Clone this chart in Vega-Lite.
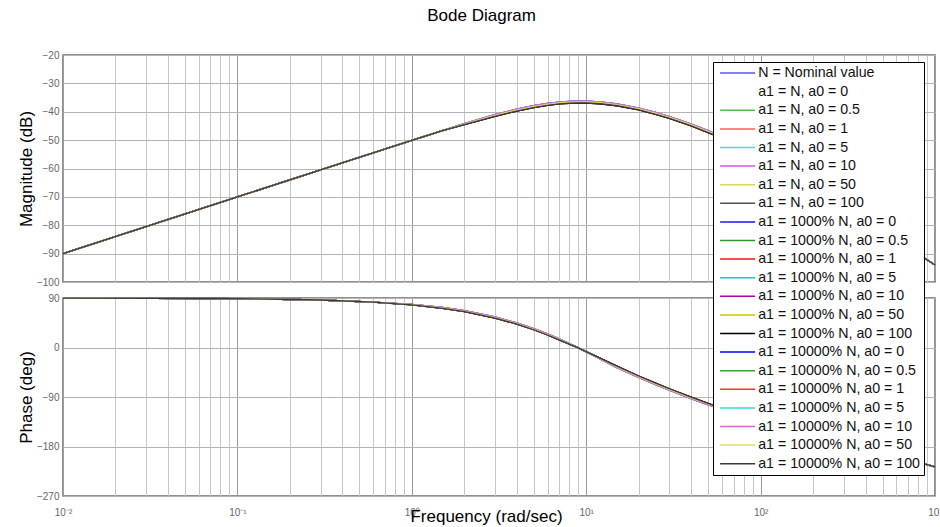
{
  "$schema": "https://vega.github.io/schema/vega-lite/v6.json",
  "background": "white",
  "padding": {"left": 16, "top": 7, "right": 4, "bottom": 2},
  "title": {"text": "Bode Diagram", "font": "Liberation Sans", "fontSize": 17, "fontWeight": "normal", "color": "#000000", "anchor": "middle", "baseline": "alphabetic", "offset": 11, "dx": 2},
  "bounds": "flush",
  "spacing": 16,
  "resolve": {"legend": {"color": "independent"}},
  "datasets": {
    "names": [
      {"s": 1, "name": "N = Nominal value"},
      {"s": 2, "name": "a1 = N, a0 = 0.5"},
      {"s": 3, "name": "a1 = N, a0 = 1"},
      {"s": 4, "name": "a1 = N, a0 = 5"},
      {"s": 5, "name": "a1 = N, a0 = 10"},
      {"s": 6, "name": "a1 = N, a0 = 50"},
      {"s": 7, "name": "a1 = N, a0 = 100"},
      {"s": 8, "name": "a1 = 1000% N, a0 = 0"},
      {"s": 9, "name": "a1 = 1000% N, a0 = 0.5"},
      {"s": 10, "name": "a1 = 1000% N, a0 = 1"},
      {"s": 11, "name": "a1 = 1000% N, a0 = 5"},
      {"s": 12, "name": "a1 = 1000% N, a0 = 10"},
      {"s": 13, "name": "a1 = 1000% N, a0 = 50"},
      {"s": 14, "name": "a1 = 1000% N, a0 = 100"},
      {"s": 15, "name": "a1 = 10000% N, a0 = 0"},
      {"s": 16, "name": "a1 = 10000% N, a0 = 0.5"},
      {"s": 17, "name": "a1 = 10000% N, a0 = 1"},
      {"s": 18, "name": "a1 = 10000% N, a0 = 5"},
      {"s": 19, "name": "a1 = 10000% N, a0 = 10"},
      {"s": 20, "name": "a1 = 10000% N, a0 = 50"},
      {"s": 21, "name": "a1 = 10000% N, a0 = 100"}
    ],
    "curves": [
{"s":1,"w":0.01,"m":-90,"p":89.88},{"s":1,"w":0.1,"m":-70,"p":88.78},{"s":1,"w":0.3,"m":-60.47,"p":86.34},{"s":1,"w":0.6,"m":-54.47,"p":82.68},{"s":1,"w":1,"m":-50.1,"p":77.82},{"s":1,"w":1.5,"m":-46.69,"p":71.8},{"s":1,"w":2,"m":-44.36,"p":65.86},{"s":1,"w":3,"m":-41.29,"p":54.33},{"s":1,"w":4,"m":-39.39,"p":43.36},{"s":1,"w":5,"m":-38.17,"p":33.08},{"s":1,"w":6,"m":-37.39,"p":23.53},{"s":1,"w":7,"m":-36.91,"p":14.72},{"s":1,"w":8,"m":-36.65,"p":6.63},{"s":1,"w":9,"m":-36.55,"p":-0.78},{"s":1,"w":10,"m":-36.57,"p":-7.55},{"s":1,"w":12,"m":-36.83,"p":-20.03},{"s":1,"w":15,"m":-37.54,"p":-35.08},{"s":1,"w":20,"m":-39.02,"p":-52.96},{"s":1,"w":25,"m":-40.54,"p":-66.02},{"s":1,"w":30,"m":-42,"p":-76.17},{"s":1,"w":40,"m":-44.64,"p":-91.41},{"s":1,"w":50,"m":-46.97,"p":-102.73},{"s":1,"w":60,"m":-49.06,"p":-111.11},{"s":1,"w":100,"m":-55.8,"p":-134.2},{"s":1,"w":200,"m":-66.55,"p":-161.03},{"s":1,"w":500,"m":-82.04,"p":-190.02},{"s":1,"w":1000,"m":-94.01,"p":-217.08},
{"s":2,"w":0.01,"m":-90,"p":89.88},{"s":2,"w":0.1,"m":-70,"p":88.78},{"s":2,"w":0.3,"m":-60.47,"p":86.34},{"s":2,"w":0.6,"m":-54.47,"p":82.68},{"s":2,"w":1,"m":-50.1,"p":77.82},{"s":2,"w":1.5,"m":-46.69,"p":71.8},{"s":2,"w":2,"m":-44.36,"p":65.86},{"s":2,"w":3,"m":-41.29,"p":54.33},{"s":2,"w":4,"m":-39.39,"p":43.36},{"s":2,"w":5,"m":-38.17,"p":33.08},{"s":2,"w":6,"m":-37.39,"p":23.53},{"s":2,"w":7,"m":-36.91,"p":14.72},{"s":2,"w":8,"m":-36.65,"p":6.63},{"s":2,"w":9,"m":-36.55,"p":-0.78},{"s":2,"w":10,"m":-36.57,"p":-7.55},{"s":2,"w":12,"m":-36.83,"p":-20.03},{"s":2,"w":15,"m":-37.54,"p":-35.08},{"s":2,"w":20,"m":-39.02,"p":-52.96},{"s":2,"w":25,"m":-40.54,"p":-66.02},{"s":2,"w":30,"m":-42,"p":-76.17},{"s":2,"w":40,"m":-44.64,"p":-91.41},{"s":2,"w":50,"m":-46.97,"p":-102.73},{"s":2,"w":60,"m":-49.06,"p":-111.11},{"s":2,"w":100,"m":-55.8,"p":-134.2},{"s":2,"w":200,"m":-66.55,"p":-161.03},{"s":2,"w":500,"m":-82.04,"p":-190.02},{"s":2,"w":1000,"m":-94.01,"p":-217.08},
{"s":3,"w":0.01,"m":-90,"p":89.88},{"s":3,"w":0.1,"m":-70,"p":88.78},{"s":3,"w":0.3,"m":-60.47,"p":86.34},{"s":3,"w":0.6,"m":-54.47,"p":82.68},{"s":3,"w":1,"m":-50.1,"p":77.82},{"s":3,"w":1.5,"m":-46.69,"p":71.8},{"s":3,"w":2,"m":-44.36,"p":65.86},{"s":3,"w":3,"m":-41.29,"p":54.33},{"s":3,"w":4,"m":-39.39,"p":43.36},{"s":3,"w":5,"m":-38.17,"p":33.08},{"s":3,"w":6,"m":-37.39,"p":23.53},{"s":3,"w":7,"m":-36.91,"p":14.72},{"s":3,"w":8,"m":-36.65,"p":6.63},{"s":3,"w":9,"m":-36.55,"p":-0.78},{"s":3,"w":10,"m":-36.57,"p":-7.55},{"s":3,"w":12,"m":-36.83,"p":-20.03},{"s":3,"w":15,"m":-37.54,"p":-35.08},{"s":3,"w":20,"m":-39.02,"p":-52.96},{"s":3,"w":25,"m":-40.54,"p":-66.02},{"s":3,"w":30,"m":-42,"p":-76.17},{"s":3,"w":40,"m":-44.64,"p":-91.41},{"s":3,"w":50,"m":-46.97,"p":-102.73},{"s":3,"w":60,"m":-49.06,"p":-111.11},{"s":3,"w":100,"m":-55.8,"p":-134.2},{"s":3,"w":200,"m":-66.55,"p":-161.03},{"s":3,"w":500,"m":-82.04,"p":-190.02},{"s":3,"w":1000,"m":-94.01,"p":-217.08},
{"s":4,"w":0.01,"m":-90,"p":89.88},{"s":4,"w":0.1,"m":-70,"p":88.78},{"s":4,"w":0.3,"m":-60.47,"p":86.34},{"s":4,"w":0.6,"m":-54.47,"p":82.68},{"s":4,"w":1,"m":-50.1,"p":78.42},{"s":4,"w":1.5,"m":-46.69,"p":73},{"s":4,"w":2,"m":-44.21,"p":67.06},{"s":4,"w":3,"m":-40.99,"p":55.53},{"s":4,"w":4,"m":-39.09,"p":44.56},{"s":4,"w":5,"m":-37.87,"p":34.28},{"s":4,"w":6,"m":-37.09,"p":24.73},{"s":4,"w":7,"m":-36.61,"p":15.92},{"s":4,"w":8,"m":-36.35,"p":7.23},{"s":4,"w":9,"m":-36.25,"p":-0.78},{"s":4,"w":10,"m":-36.27,"p":-7.55},{"s":4,"w":12,"m":-36.53,"p":-20.83},{"s":4,"w":15,"m":-37.24,"p":-36.48},{"s":4,"w":20,"m":-38.72,"p":-54.36},{"s":4,"w":25,"m":-40.24,"p":-67.42},{"s":4,"w":30,"m":-41.7,"p":-77.57},{"s":4,"w":40,"m":-44.34,"p":-92.81},{"s":4,"w":50,"m":-46.67,"p":-104.13},{"s":4,"w":60,"m":-48.91,"p":-111.91},{"s":4,"w":100,"m":-55.8,"p":-134.2},{"s":4,"w":200,"m":-66.55,"p":-161.03},{"s":4,"w":500,"m":-82.04,"p":-190.02},{"s":4,"w":1000,"m":-94.01,"p":-217.08},
{"s":5,"w":0.01,"m":-90,"p":89.88},{"s":5,"w":0.1,"m":-70,"p":88.78},{"s":5,"w":0.3,"m":-60.47,"p":86.34},{"s":5,"w":0.6,"m":-54.47,"p":82.68},{"s":5,"w":1,"m":-50.1,"p":78.42},{"s":5,"w":1.5,"m":-46.69,"p":73},{"s":5,"w":2,"m":-44.21,"p":67.06},{"s":5,"w":3,"m":-40.99,"p":55.53},{"s":5,"w":4,"m":-39.09,"p":44.56},{"s":5,"w":5,"m":-37.87,"p":34.28},{"s":5,"w":6,"m":-37.09,"p":24.73},{"s":5,"w":7,"m":-36.61,"p":15.92},{"s":5,"w":8,"m":-36.35,"p":7.23},{"s":5,"w":9,"m":-36.25,"p":-0.78},{"s":5,"w":10,"m":-36.27,"p":-7.55},{"s":5,"w":12,"m":-36.53,"p":-20.83},{"s":5,"w":15,"m":-37.24,"p":-36.48},{"s":5,"w":20,"m":-38.72,"p":-54.36},{"s":5,"w":25,"m":-40.24,"p":-67.42},{"s":5,"w":30,"m":-41.7,"p":-77.57},{"s":5,"w":40,"m":-44.34,"p":-92.81},{"s":5,"w":50,"m":-46.67,"p":-104.13},{"s":5,"w":60,"m":-48.91,"p":-111.91},{"s":5,"w":100,"m":-55.8,"p":-134.2},{"s":5,"w":200,"m":-66.55,"p":-161.03},{"s":5,"w":500,"m":-82.04,"p":-190.02},{"s":5,"w":1000,"m":-94.01,"p":-217.08},
{"s":6,"w":0.01,"m":-90,"p":89.88},{"s":6,"w":0.1,"m":-70,"p":88.78},{"s":6,"w":0.3,"m":-60.47,"p":86.34},{"s":6,"w":0.6,"m":-54.47,"p":82.68},{"s":6,"w":1,"m":-50.1,"p":77.82},{"s":6,"w":1.5,"m":-46.69,"p":71.8},{"s":6,"w":2,"m":-44.36,"p":65.86},{"s":6,"w":3,"m":-41.29,"p":54.33},{"s":6,"w":4,"m":-39.39,"p":43.36},{"s":6,"w":5,"m":-38.17,"p":33.08},{"s":6,"w":6,"m":-37.39,"p":23.53},{"s":6,"w":7,"m":-36.91,"p":14.72},{"s":6,"w":8,"m":-36.65,"p":6.63},{"s":6,"w":9,"m":-36.55,"p":-0.78},{"s":6,"w":10,"m":-36.57,"p":-7.55},{"s":6,"w":12,"m":-36.83,"p":-20.03},{"s":6,"w":15,"m":-37.54,"p":-35.08},{"s":6,"w":20,"m":-39.02,"p":-52.96},{"s":6,"w":25,"m":-40.54,"p":-66.02},{"s":6,"w":30,"m":-42,"p":-76.17},{"s":6,"w":40,"m":-44.64,"p":-91.41},{"s":6,"w":50,"m":-46.97,"p":-102.73},{"s":6,"w":60,"m":-49.06,"p":-111.11},{"s":6,"w":100,"m":-55.8,"p":-134.2},{"s":6,"w":200,"m":-66.55,"p":-161.03},{"s":6,"w":500,"m":-82.04,"p":-190.02},{"s":6,"w":1000,"m":-94.01,"p":-217.08},
{"s":7,"w":0.01,"m":-90,"p":89.88},{"s":7,"w":0.1,"m":-70,"p":88.78},{"s":7,"w":0.3,"m":-60.47,"p":86.34},{"s":7,"w":0.6,"m":-54.47,"p":82.68},{"s":7,"w":1,"m":-50.1,"p":77.42},{"s":7,"w":1.5,"m":-46.69,"p":71},{"s":7,"w":2,"m":-44.56,"p":65.06},{"s":7,"w":3,"m":-41.64,"p":53.53},{"s":7,"w":4,"m":-39.74,"p":42.56},{"s":7,"w":5,"m":-38.52,"p":32.28},{"s":7,"w":6,"m":-37.74,"p":22.73},{"s":7,"w":7,"m":-37.26,"p":13.92},{"s":7,"w":8,"m":-37,"p":6.23},{"s":7,"w":9,"m":-36.9,"p":-0.78},{"s":7,"w":10,"m":-36.92,"p":-7.55},{"s":7,"w":12,"m":-37.18,"p":-19.43},{"s":7,"w":15,"m":-37.89,"p":-33.88},{"s":7,"w":20,"m":-39.37,"p":-51.76},{"s":7,"w":25,"m":-40.89,"p":-64.82},{"s":7,"w":30,"m":-42.35,"p":-74.97},{"s":7,"w":40,"m":-44.99,"p":-90.21},{"s":7,"w":50,"m":-47.32,"p":-101.53},{"s":7,"w":60,"m":-49.26,"p":-110.51},{"s":7,"w":100,"m":-55.8,"p":-134.2},{"s":7,"w":200,"m":-66.55,"p":-161.03},{"s":7,"w":500,"m":-82.04,"p":-190.02},{"s":7,"w":1000,"m":-94.01,"p":-217.08},
{"s":8,"w":0.01,"m":-90,"p":89.88},{"s":8,"w":0.1,"m":-70,"p":88.78},{"s":8,"w":0.3,"m":-60.47,"p":86.34},{"s":8,"w":0.6,"m":-54.47,"p":82.68},{"s":8,"w":1,"m":-50.1,"p":77.82},{"s":8,"w":1.5,"m":-46.69,"p":71.8},{"s":8,"w":2,"m":-44.36,"p":65.86},{"s":8,"w":3,"m":-41.29,"p":54.33},{"s":8,"w":4,"m":-39.39,"p":43.36},{"s":8,"w":5,"m":-38.17,"p":33.08},{"s":8,"w":6,"m":-37.39,"p":23.53},{"s":8,"w":7,"m":-36.91,"p":14.72},{"s":8,"w":8,"m":-36.65,"p":6.63},{"s":8,"w":9,"m":-36.55,"p":-0.78},{"s":8,"w":10,"m":-36.57,"p":-7.55},{"s":8,"w":12,"m":-36.83,"p":-20.03},{"s":8,"w":15,"m":-37.54,"p":-35.08},{"s":8,"w":20,"m":-39.02,"p":-52.96},{"s":8,"w":25,"m":-40.54,"p":-66.02},{"s":8,"w":30,"m":-42,"p":-76.17},{"s":8,"w":40,"m":-44.64,"p":-91.41},{"s":8,"w":50,"m":-46.97,"p":-102.73},{"s":8,"w":60,"m":-49.06,"p":-111.11},{"s":8,"w":100,"m":-55.8,"p":-134.2},{"s":8,"w":200,"m":-66.55,"p":-161.03},{"s":8,"w":500,"m":-82.04,"p":-190.02},{"s":8,"w":1000,"m":-94.01,"p":-217.08},
{"s":9,"w":0.01,"m":-90,"p":89.88},{"s":9,"w":0.1,"m":-70,"p":88.78},{"s":9,"w":0.3,"m":-60.47,"p":86.34},{"s":9,"w":0.6,"m":-54.47,"p":82.68},{"s":9,"w":1,"m":-50.1,"p":77.82},{"s":9,"w":1.5,"m":-46.69,"p":71.8},{"s":9,"w":2,"m":-44.36,"p":65.86},{"s":9,"w":3,"m":-41.29,"p":54.33},{"s":9,"w":4,"m":-39.39,"p":43.36},{"s":9,"w":5,"m":-38.17,"p":33.08},{"s":9,"w":6,"m":-37.39,"p":23.53},{"s":9,"w":7,"m":-36.91,"p":14.72},{"s":9,"w":8,"m":-36.65,"p":6.63},{"s":9,"w":9,"m":-36.55,"p":-0.78},{"s":9,"w":10,"m":-36.57,"p":-7.55},{"s":9,"w":12,"m":-36.83,"p":-20.03},{"s":9,"w":15,"m":-37.54,"p":-35.08},{"s":9,"w":20,"m":-39.02,"p":-52.96},{"s":9,"w":25,"m":-40.54,"p":-66.02},{"s":9,"w":30,"m":-42,"p":-76.17},{"s":9,"w":40,"m":-44.64,"p":-91.41},{"s":9,"w":50,"m":-46.97,"p":-102.73},{"s":9,"w":60,"m":-49.06,"p":-111.11},{"s":9,"w":100,"m":-55.8,"p":-134.2},{"s":9,"w":200,"m":-66.55,"p":-161.03},{"s":9,"w":500,"m":-82.04,"p":-190.02},{"s":9,"w":1000,"m":-94.01,"p":-217.08},
{"s":10,"w":0.01,"m":-90,"p":89.88},{"s":10,"w":0.1,"m":-70,"p":88.78},{"s":10,"w":0.3,"m":-60.47,"p":86.34},{"s":10,"w":0.6,"m":-54.47,"p":82.68},{"s":10,"w":1,"m":-50.1,"p":77.82},{"s":10,"w":1.5,"m":-46.69,"p":71.8},{"s":10,"w":2,"m":-44.36,"p":65.86},{"s":10,"w":3,"m":-41.29,"p":54.33},{"s":10,"w":4,"m":-39.39,"p":43.36},{"s":10,"w":5,"m":-38.17,"p":33.08},{"s":10,"w":6,"m":-37.39,"p":23.53},{"s":10,"w":7,"m":-36.91,"p":14.72},{"s":10,"w":8,"m":-36.65,"p":6.63},{"s":10,"w":9,"m":-36.55,"p":-0.78},{"s":10,"w":10,"m":-36.57,"p":-7.55},{"s":10,"w":12,"m":-36.83,"p":-20.03},{"s":10,"w":15,"m":-37.54,"p":-35.08},{"s":10,"w":20,"m":-39.02,"p":-52.96},{"s":10,"w":25,"m":-40.54,"p":-66.02},{"s":10,"w":30,"m":-42,"p":-76.17},{"s":10,"w":40,"m":-44.64,"p":-91.41},{"s":10,"w":50,"m":-46.97,"p":-102.73},{"s":10,"w":60,"m":-49.06,"p":-111.11},{"s":10,"w":100,"m":-55.8,"p":-134.2},{"s":10,"w":200,"m":-66.55,"p":-161.03},{"s":10,"w":500,"m":-82.04,"p":-190.02},{"s":10,"w":1000,"m":-94.01,"p":-217.08},
{"s":11,"w":0.01,"m":-90,"p":89.88},{"s":11,"w":0.1,"m":-70,"p":88.78},{"s":11,"w":0.3,"m":-60.47,"p":86.34},{"s":11,"w":0.6,"m":-54.47,"p":82.68},{"s":11,"w":1,"m":-50.1,"p":78.42},{"s":11,"w":1.5,"m":-46.69,"p":73},{"s":11,"w":2,"m":-44.21,"p":67.06},{"s":11,"w":3,"m":-40.99,"p":55.53},{"s":11,"w":4,"m":-39.09,"p":44.56},{"s":11,"w":5,"m":-37.87,"p":34.28},{"s":11,"w":6,"m":-37.09,"p":24.73},{"s":11,"w":7,"m":-36.61,"p":15.92},{"s":11,"w":8,"m":-36.35,"p":7.23},{"s":11,"w":9,"m":-36.25,"p":-0.78},{"s":11,"w":10,"m":-36.27,"p":-7.55},{"s":11,"w":12,"m":-36.53,"p":-20.83},{"s":11,"w":15,"m":-37.24,"p":-36.48},{"s":11,"w":20,"m":-38.72,"p":-54.36},{"s":11,"w":25,"m":-40.24,"p":-67.42},{"s":11,"w":30,"m":-41.7,"p":-77.57},{"s":11,"w":40,"m":-44.34,"p":-92.81},{"s":11,"w":50,"m":-46.67,"p":-104.13},{"s":11,"w":60,"m":-48.91,"p":-111.91},{"s":11,"w":100,"m":-55.8,"p":-134.2},{"s":11,"w":200,"m":-66.55,"p":-161.03},{"s":11,"w":500,"m":-82.04,"p":-190.02},{"s":11,"w":1000,"m":-94.01,"p":-217.08},
{"s":12,"w":0.01,"m":-90,"p":89.88},{"s":12,"w":0.1,"m":-70,"p":88.78},{"s":12,"w":0.3,"m":-60.47,"p":86.34},{"s":12,"w":0.6,"m":-54.47,"p":82.68},{"s":12,"w":1,"m":-50.1,"p":78.42},{"s":12,"w":1.5,"m":-46.69,"p":73},{"s":12,"w":2,"m":-44.21,"p":67.06},{"s":12,"w":3,"m":-40.99,"p":55.53},{"s":12,"w":4,"m":-39.09,"p":44.56},{"s":12,"w":5,"m":-37.87,"p":34.28},{"s":12,"w":6,"m":-37.09,"p":24.73},{"s":12,"w":7,"m":-36.61,"p":15.92},{"s":12,"w":8,"m":-36.35,"p":7.23},{"s":12,"w":9,"m":-36.25,"p":-0.78},{"s":12,"w":10,"m":-36.27,"p":-7.55},{"s":12,"w":12,"m":-36.53,"p":-20.83},{"s":12,"w":15,"m":-37.24,"p":-36.48},{"s":12,"w":20,"m":-38.72,"p":-54.36},{"s":12,"w":25,"m":-40.24,"p":-67.42},{"s":12,"w":30,"m":-41.7,"p":-77.57},{"s":12,"w":40,"m":-44.34,"p":-92.81},{"s":12,"w":50,"m":-46.67,"p":-104.13},{"s":12,"w":60,"m":-48.91,"p":-111.91},{"s":12,"w":100,"m":-55.8,"p":-134.2},{"s":12,"w":200,"m":-66.55,"p":-161.03},{"s":12,"w":500,"m":-82.04,"p":-190.02},{"s":12,"w":1000,"m":-94.01,"p":-217.08},
{"s":13,"w":0.01,"m":-90,"p":89.88},{"s":13,"w":0.1,"m":-70,"p":88.78},{"s":13,"w":0.3,"m":-60.47,"p":86.34},{"s":13,"w":0.6,"m":-54.47,"p":82.68},{"s":13,"w":1,"m":-50.1,"p":77.82},{"s":13,"w":1.5,"m":-46.69,"p":71.8},{"s":13,"w":2,"m":-44.36,"p":65.86},{"s":13,"w":3,"m":-41.29,"p":54.33},{"s":13,"w":4,"m":-39.39,"p":43.36},{"s":13,"w":5,"m":-38.17,"p":33.08},{"s":13,"w":6,"m":-37.39,"p":23.53},{"s":13,"w":7,"m":-36.91,"p":14.72},{"s":13,"w":8,"m":-36.65,"p":6.63},{"s":13,"w":9,"m":-36.55,"p":-0.78},{"s":13,"w":10,"m":-36.57,"p":-7.55},{"s":13,"w":12,"m":-36.83,"p":-20.03},{"s":13,"w":15,"m":-37.54,"p":-35.08},{"s":13,"w":20,"m":-39.02,"p":-52.96},{"s":13,"w":25,"m":-40.54,"p":-66.02},{"s":13,"w":30,"m":-42,"p":-76.17},{"s":13,"w":40,"m":-44.64,"p":-91.41},{"s":13,"w":50,"m":-46.97,"p":-102.73},{"s":13,"w":60,"m":-49.06,"p":-111.11},{"s":13,"w":100,"m":-55.8,"p":-134.2},{"s":13,"w":200,"m":-66.55,"p":-161.03},{"s":13,"w":500,"m":-82.04,"p":-190.02},{"s":13,"w":1000,"m":-94.01,"p":-217.08},
{"s":14,"w":0.01,"m":-90,"p":89.88},{"s":14,"w":0.1,"m":-70,"p":88.78},{"s":14,"w":0.3,"m":-60.47,"p":86.34},{"s":14,"w":0.6,"m":-54.47,"p":82.68},{"s":14,"w":1,"m":-50.1,"p":77.42},{"s":14,"w":1.5,"m":-46.69,"p":71},{"s":14,"w":2,"m":-44.56,"p":65.06},{"s":14,"w":3,"m":-41.64,"p":53.53},{"s":14,"w":4,"m":-39.74,"p":42.56},{"s":14,"w":5,"m":-38.52,"p":32.28},{"s":14,"w":6,"m":-37.74,"p":22.73},{"s":14,"w":7,"m":-37.26,"p":13.92},{"s":14,"w":8,"m":-37,"p":6.23},{"s":14,"w":9,"m":-36.9,"p":-0.78},{"s":14,"w":10,"m":-36.92,"p":-7.55},{"s":14,"w":12,"m":-37.18,"p":-19.43},{"s":14,"w":15,"m":-37.89,"p":-33.88},{"s":14,"w":20,"m":-39.37,"p":-51.76},{"s":14,"w":25,"m":-40.89,"p":-64.82},{"s":14,"w":30,"m":-42.35,"p":-74.97},{"s":14,"w":40,"m":-44.99,"p":-90.21},{"s":14,"w":50,"m":-47.32,"p":-101.53},{"s":14,"w":60,"m":-49.26,"p":-110.51},{"s":14,"w":100,"m":-55.8,"p":-134.2},{"s":14,"w":200,"m":-66.55,"p":-161.03},{"s":14,"w":500,"m":-82.04,"p":-190.02},{"s":14,"w":1000,"m":-94.01,"p":-217.08},
{"s":15,"w":0.01,"m":-90,"p":89.88},{"s":15,"w":0.1,"m":-70,"p":88.78},{"s":15,"w":0.3,"m":-60.47,"p":86.34},{"s":15,"w":0.6,"m":-54.47,"p":82.68},{"s":15,"w":1,"m":-50.1,"p":77.82},{"s":15,"w":1.5,"m":-46.69,"p":71.8},{"s":15,"w":2,"m":-44.36,"p":65.86},{"s":15,"w":3,"m":-41.29,"p":54.33},{"s":15,"w":4,"m":-39.39,"p":43.36},{"s":15,"w":5,"m":-38.17,"p":33.08},{"s":15,"w":6,"m":-37.39,"p":23.53},{"s":15,"w":7,"m":-36.91,"p":14.72},{"s":15,"w":8,"m":-36.65,"p":6.63},{"s":15,"w":9,"m":-36.55,"p":-0.78},{"s":15,"w":10,"m":-36.57,"p":-7.55},{"s":15,"w":12,"m":-36.83,"p":-20.03},{"s":15,"w":15,"m":-37.54,"p":-35.08},{"s":15,"w":20,"m":-39.02,"p":-52.96},{"s":15,"w":25,"m":-40.54,"p":-66.02},{"s":15,"w":30,"m":-42,"p":-76.17},{"s":15,"w":40,"m":-44.64,"p":-91.41},{"s":15,"w":50,"m":-46.97,"p":-102.73},{"s":15,"w":60,"m":-49.06,"p":-111.11},{"s":15,"w":100,"m":-55.8,"p":-134.2},{"s":15,"w":200,"m":-66.55,"p":-161.03},{"s":15,"w":500,"m":-82.04,"p":-190.02},{"s":15,"w":1000,"m":-94.01,"p":-217.08},
{"s":16,"w":0.01,"m":-90,"p":89.88},{"s":16,"w":0.1,"m":-70,"p":88.78},{"s":16,"w":0.3,"m":-60.47,"p":86.34},{"s":16,"w":0.6,"m":-54.47,"p":82.68},{"s":16,"w":1,"m":-50.1,"p":77.82},{"s":16,"w":1.5,"m":-46.69,"p":71.8},{"s":16,"w":2,"m":-44.36,"p":65.86},{"s":16,"w":3,"m":-41.29,"p":54.33},{"s":16,"w":4,"m":-39.39,"p":43.36},{"s":16,"w":5,"m":-38.17,"p":33.08},{"s":16,"w":6,"m":-37.39,"p":23.53},{"s":16,"w":7,"m":-36.91,"p":14.72},{"s":16,"w":8,"m":-36.65,"p":6.63},{"s":16,"w":9,"m":-36.55,"p":-0.78},{"s":16,"w":10,"m":-36.57,"p":-7.55},{"s":16,"w":12,"m":-36.83,"p":-20.03},{"s":16,"w":15,"m":-37.54,"p":-35.08},{"s":16,"w":20,"m":-39.02,"p":-52.96},{"s":16,"w":25,"m":-40.54,"p":-66.02},{"s":16,"w":30,"m":-42,"p":-76.17},{"s":16,"w":40,"m":-44.64,"p":-91.41},{"s":16,"w":50,"m":-46.97,"p":-102.73},{"s":16,"w":60,"m":-49.06,"p":-111.11},{"s":16,"w":100,"m":-55.8,"p":-134.2},{"s":16,"w":200,"m":-66.55,"p":-161.03},{"s":16,"w":500,"m":-82.04,"p":-190.02},{"s":16,"w":1000,"m":-94.01,"p":-217.08},
{"s":17,"w":0.01,"m":-90,"p":89.88},{"s":17,"w":0.1,"m":-70,"p":88.78},{"s":17,"w":0.3,"m":-60.47,"p":86.34},{"s":17,"w":0.6,"m":-54.47,"p":82.68},{"s":17,"w":1,"m":-50.1,"p":77.82},{"s":17,"w":1.5,"m":-46.69,"p":71.8},{"s":17,"w":2,"m":-44.36,"p":65.86},{"s":17,"w":3,"m":-41.29,"p":54.33},{"s":17,"w":4,"m":-39.39,"p":43.36},{"s":17,"w":5,"m":-38.17,"p":33.08},{"s":17,"w":6,"m":-37.39,"p":23.53},{"s":17,"w":7,"m":-36.91,"p":14.72},{"s":17,"w":8,"m":-36.65,"p":6.63},{"s":17,"w":9,"m":-36.55,"p":-0.78},{"s":17,"w":10,"m":-36.57,"p":-7.55},{"s":17,"w":12,"m":-36.83,"p":-20.03},{"s":17,"w":15,"m":-37.54,"p":-35.08},{"s":17,"w":20,"m":-39.02,"p":-52.96},{"s":17,"w":25,"m":-40.54,"p":-66.02},{"s":17,"w":30,"m":-42,"p":-76.17},{"s":17,"w":40,"m":-44.64,"p":-91.41},{"s":17,"w":50,"m":-46.97,"p":-102.73},{"s":17,"w":60,"m":-49.06,"p":-111.11},{"s":17,"w":100,"m":-55.8,"p":-134.2},{"s":17,"w":200,"m":-66.55,"p":-161.03},{"s":17,"w":500,"m":-82.04,"p":-190.02},{"s":17,"w":1000,"m":-94.01,"p":-217.08},
{"s":18,"w":0.01,"m":-90,"p":89.88},{"s":18,"w":0.1,"m":-70,"p":88.78},{"s":18,"w":0.3,"m":-60.47,"p":86.34},{"s":18,"w":0.6,"m":-54.47,"p":82.68},{"s":18,"w":1,"m":-50.1,"p":78.42},{"s":18,"w":1.5,"m":-46.69,"p":73},{"s":18,"w":2,"m":-44.21,"p":67.06},{"s":18,"w":3,"m":-40.99,"p":55.53},{"s":18,"w":4,"m":-39.09,"p":44.56},{"s":18,"w":5,"m":-37.87,"p":34.28},{"s":18,"w":6,"m":-37.09,"p":24.73},{"s":18,"w":7,"m":-36.61,"p":15.92},{"s":18,"w":8,"m":-36.35,"p":7.23},{"s":18,"w":9,"m":-36.25,"p":-0.78},{"s":18,"w":10,"m":-36.27,"p":-7.55},{"s":18,"w":12,"m":-36.53,"p":-20.83},{"s":18,"w":15,"m":-37.24,"p":-36.48},{"s":18,"w":20,"m":-38.72,"p":-54.36},{"s":18,"w":25,"m":-40.24,"p":-67.42},{"s":18,"w":30,"m":-41.7,"p":-77.57},{"s":18,"w":40,"m":-44.34,"p":-92.81},{"s":18,"w":50,"m":-46.67,"p":-104.13},{"s":18,"w":60,"m":-48.91,"p":-111.91},{"s":18,"w":100,"m":-55.8,"p":-134.2},{"s":18,"w":200,"m":-66.55,"p":-161.03},{"s":18,"w":500,"m":-82.04,"p":-190.02},{"s":18,"w":1000,"m":-94.01,"p":-217.08},
{"s":19,"w":0.01,"m":-90,"p":89.88},{"s":19,"w":0.1,"m":-70,"p":88.78},{"s":19,"w":0.3,"m":-60.47,"p":86.34},{"s":19,"w":0.6,"m":-54.47,"p":82.68},{"s":19,"w":1,"m":-50.1,"p":78.42},{"s":19,"w":1.5,"m":-46.69,"p":73},{"s":19,"w":2,"m":-44.21,"p":67.06},{"s":19,"w":3,"m":-40.99,"p":55.53},{"s":19,"w":4,"m":-39.09,"p":44.56},{"s":19,"w":5,"m":-37.87,"p":34.28},{"s":19,"w":6,"m":-37.09,"p":24.73},{"s":19,"w":7,"m":-36.61,"p":15.92},{"s":19,"w":8,"m":-36.35,"p":7.23},{"s":19,"w":9,"m":-36.25,"p":-0.78},{"s":19,"w":10,"m":-36.27,"p":-7.55},{"s":19,"w":12,"m":-36.53,"p":-20.83},{"s":19,"w":15,"m":-37.24,"p":-36.48},{"s":19,"w":20,"m":-38.72,"p":-54.36},{"s":19,"w":25,"m":-40.24,"p":-67.42},{"s":19,"w":30,"m":-41.7,"p":-77.57},{"s":19,"w":40,"m":-44.34,"p":-92.81},{"s":19,"w":50,"m":-46.67,"p":-104.13},{"s":19,"w":60,"m":-48.91,"p":-111.91},{"s":19,"w":100,"m":-55.8,"p":-134.2},{"s":19,"w":200,"m":-66.55,"p":-161.03},{"s":19,"w":500,"m":-82.04,"p":-190.02},{"s":19,"w":1000,"m":-94.01,"p":-217.08},
{"s":20,"w":0.01,"m":-90,"p":89.88},{"s":20,"w":0.1,"m":-70,"p":88.78},{"s":20,"w":0.3,"m":-60.47,"p":86.34},{"s":20,"w":0.6,"m":-54.47,"p":82.68},{"s":20,"w":1,"m":-50.1,"p":77.82},{"s":20,"w":1.5,"m":-46.69,"p":71.8},{"s":20,"w":2,"m":-44.36,"p":65.86},{"s":20,"w":3,"m":-41.29,"p":54.33},{"s":20,"w":4,"m":-39.39,"p":43.36},{"s":20,"w":5,"m":-38.17,"p":33.08},{"s":20,"w":6,"m":-37.39,"p":23.53},{"s":20,"w":7,"m":-36.91,"p":14.72},{"s":20,"w":8,"m":-36.65,"p":6.63},{"s":20,"w":9,"m":-36.55,"p":-0.78},{"s":20,"w":10,"m":-36.57,"p":-7.55},{"s":20,"w":12,"m":-36.83,"p":-20.03},{"s":20,"w":15,"m":-37.54,"p":-35.08},{"s":20,"w":20,"m":-39.02,"p":-52.96},{"s":20,"w":25,"m":-40.54,"p":-66.02},{"s":20,"w":30,"m":-42,"p":-76.17},{"s":20,"w":40,"m":-44.64,"p":-91.41},{"s":20,"w":50,"m":-46.97,"p":-102.73},{"s":20,"w":60,"m":-49.06,"p":-111.11},{"s":20,"w":100,"m":-55.8,"p":-134.2},{"s":20,"w":200,"m":-66.55,"p":-161.03},{"s":20,"w":500,"m":-82.04,"p":-190.02},{"s":20,"w":1000,"m":-94.01,"p":-217.08},
{"s":21,"w":0.01,"m":-90,"p":89.88},{"s":21,"w":0.1,"m":-70,"p":88.78},{"s":21,"w":0.3,"m":-60.47,"p":86.34},{"s":21,"w":0.6,"m":-54.47,"p":82.68},{"s":21,"w":1,"m":-50.1,"p":77.42},{"s":21,"w":1.5,"m":-46.69,"p":71},{"s":21,"w":2,"m":-44.56,"p":65.06},{"s":21,"w":3,"m":-41.64,"p":53.53},{"s":21,"w":4,"m":-39.74,"p":42.56},{"s":21,"w":5,"m":-38.52,"p":32.28},{"s":21,"w":6,"m":-37.74,"p":22.73},{"s":21,"w":7,"m":-37.26,"p":13.92},{"s":21,"w":8,"m":-37,"p":6.23},{"s":21,"w":9,"m":-36.9,"p":-0.78},{"s":21,"w":10,"m":-36.92,"p":-7.55},{"s":21,"w":12,"m":-37.18,"p":-19.43},{"s":21,"w":15,"m":-37.89,"p":-33.88},{"s":21,"w":20,"m":-39.37,"p":-51.76},{"s":21,"w":25,"m":-40.89,"p":-64.82},{"s":21,"w":30,"m":-42.35,"p":-74.97},{"s":21,"w":40,"m":-44.99,"p":-90.21},{"s":21,"w":50,"m":-47.32,"p":-101.53},{"s":21,"w":60,"m":-49.26,"p":-110.51},{"s":21,"w":100,"m":-55.8,"p":-134.2},{"s":21,"w":200,"m":-66.55,"p":-161.03},{"s":21,"w":500,"m":-82.04,"p":-190.02},{"s":21,"w":1000,"m":-94.01,"p":-217.08}
    ]
  },
  "vconcat": [
    {
      "width": 872,
      "height": 227,
      "data": {"name": "curves"},
      "transform": [{"lookup": "s", "from": {"data": {"name": "names"}, "key": "s", "fields": ["name"]}}],
      "mark": {"type": "line", "strokeWidth": 1.3},
      "encoding": {
        "x": {
          "field": "w", "type": "quantitative",
          "scale": {"type": "log", "domain": [0.01, 1000], "nice": false},
          "axis": {
            "values": [0.01,0.02,0.03,0.04,0.05,0.06,0.07,0.08,0.09,0.1,0.2,0.3,0.4,0.5,0.6,0.7,0.8,0.9,1,2,3,4,5,6,7,8,9,10,20,30,40,50,60,70,80,90,100,200,300,400,500,600,700,800,900,1000],
            "labels": false, "ticks": false, "domain": false, "title": null, "grid": true,
            "gridColor": {"condition": {"test": "datum.value == 0.01 || datum.value == 0.1 || datum.value == 1 || datum.value == 10 || datum.value == 100 || datum.value == 1000", "value": "#9c9c9c"}, "value": "#c6c6c6"}
          }
        },
        "y": {
          "field": "m", "type": "quantitative",
          "scale": {"domain": [-100, -20], "nice": false, "zero": false},
          "axis": {
            "values": [-100,-90,-80,-70,-60,-50,-40,-30,-20],
            "grid": true, "gridColor": "#b4b4b4", "ticks": false, "tickSize": 0, "domain": false,
            "labelFont": "Liberation Sans", "labelFontSize": 10, "labelColor": "#666666", "labelPadding": 4,
            "labelOverlap": false, "labelFlush": false,
            "title": "Magnitude (dB)", "titleFont": "Liberation Sans", "titleFontSize": 17, "titleFontWeight": "normal", "titleColor": "#000000",
            "titleAngle": 270, "titleX": -32, "titleY": 113.5, "titleAlign": "center", "titleBaseline": "alphabetic"
          }
        },
        "color": {
          "field": "name", "type": "nominal",
          "scale": {
            "domain": ["N = Nominal value","a1 = N, a0 = 0","a1 = N, a0 = 0.5","a1 = N, a0 = 1","a1 = N, a0 = 5","a1 = N, a0 = 10","a1 = N, a0 = 50","a1 = N, a0 = 100","a1 = 1000% N, a0 = 0","a1 = 1000% N, a0 = 0.5","a1 = 1000% N, a0 = 1","a1 = 1000% N, a0 = 5","a1 = 1000% N, a0 = 10","a1 = 1000% N, a0 = 50","a1 = 1000% N, a0 = 100","a1 = 10000% N, a0 = 0","a1 = 10000% N, a0 = 0.5","a1 = 10000% N, a0 = 1","a1 = 10000% N, a0 = 5","a1 = 10000% N, a0 = 10","a1 = 10000% N, a0 = 50","a1 = 10000% N, a0 = 100"],
            "range": ["#5555ff","transparent","#4cc04c","#ff5a5a","#55d5d5","#d855d8","#dada55","#505050","#1a1aee","#2a9a2a","#ff1010","#10c8c8","#b000b0","#c8c800","#000000","#0000ff","#30a830","#ff3030","#30d8d8","#e060e0","#e0e060","#3a3a3a"]
          },
          "legend": null
        }
      }
    },
    {
      "width": 872,
      "height": 198,
      "data": {"name": "curves"},
      "transform": [{"lookup": "s", "from": {"data": {"name": "names"}, "key": "s", "fields": ["name"]}}],
      "mark": {"type": "line", "strokeWidth": 1.3},
      "encoding": {
        "x": {
          "field": "w", "type": "quantitative",
          "scale": {"type": "log", "domain": [0.01, 1000], "nice": false},
          "axis": {
            "values": [0.01,0.02,0.03,0.04,0.05,0.06,0.07,0.08,0.09,0.1,0.2,0.3,0.4,0.5,0.6,0.7,0.8,0.9,1,2,3,4,5,6,7,8,9,10,20,30,40,50,60,70,80,90,100,200,300,400,500,600,700,800,900,1000],
            "labelExpr": "datum.value == 0.01 ? '10⁻²' : datum.value == 0.1 ? '10⁻¹' : datum.value == 1 ? '10⁰' : datum.value == 10 ? '10¹' : datum.value == 100 ? '10²' : datum.value == 1000 ? '10³' : ''",
            "ticks": false, "tickSize": 0, "domain": false, "grid": true,
            "gridColor": {"condition": {"test": "datum.value == 0.01 || datum.value == 0.1 || datum.value == 1 || datum.value == 10 || datum.value == 100 || datum.value == 1000", "value": "#9c9c9c"}, "value": "#c6c6c6"},
            "labelFont": "Liberation Sans", "labelFontSize": 10, "labelColor": "#666666", "labelPadding": 11,
            "labelOverlap": false, "labelFlush": false, "labelBound": false,
            "title": "Frequency  (rad/sec)", "titleFont": "Liberation Sans", "titleFontSize": 17, "titleFontWeight": "normal", "titleColor": "#000000",
            "titleX": 423, "titleY": 25, "titleAlign": "center", "titleBaseline": "alphabetic"
          }
        },
        "y": {
          "field": "p", "type": "quantitative",
          "scale": {"domain": [-270, 90], "nice": false, "zero": false},
          "axis": {
            "values": [-270,-180,-90,0,90],
            "grid": true, "gridColor": "#b4b4b4", "ticks": false, "tickSize": 0, "domain": false,
            "labelFont": "Liberation Sans", "labelFontSize": 10, "labelColor": "#666666", "labelPadding": 4,
            "labelOverlap": false, "labelFlush": false,
            "title": "Phase (deg)", "titleFont": "Liberation Sans", "titleFontSize": 17, "titleFontWeight": "normal", "titleColor": "#000000",
            "titleAngle": 270, "titleX": -32, "titleY": 99, "titleAlign": "center", "titleBaseline": "alphabetic"
          }
        },
        "color": {
          "field": "name", "type": "nominal",
          "scale": {
            "domain": ["N = Nominal value","a1 = N, a0 = 0","a1 = N, a0 = 0.5","a1 = N, a0 = 1","a1 = N, a0 = 5","a1 = N, a0 = 10","a1 = N, a0 = 50","a1 = N, a0 = 100","a1 = 1000% N, a0 = 0","a1 = 1000% N, a0 = 0.5","a1 = 1000% N, a0 = 1","a1 = 1000% N, a0 = 5","a1 = 1000% N, a0 = 10","a1 = 1000% N, a0 = 50","a1 = 1000% N, a0 = 100","a1 = 10000% N, a0 = 0","a1 = 10000% N, a0 = 0.5","a1 = 10000% N, a0 = 1","a1 = 10000% N, a0 = 5","a1 = 10000% N, a0 = 10","a1 = 10000% N, a0 = 50","a1 = 10000% N, a0 = 100"],
            "range": ["#5555ff","transparent","#4cc04c","#ff5a5a","#55d5d5","#d855d8","#dada55","#505050","#1a1aee","#2a9a2a","#ff1010","#10c8c8","#b000b0","#c8c800","#000000","#0000ff","#30a830","#ff3030","#30d8d8","#e060e0","#e0e060","#3a3a3a"]
          },
          "legend": {
            "orient": "none", "legendX": 650, "legendY": -236, "title": null,
            "symbolType": "M-3.5,0H3.5", "symbolSize": 100, "symbolStrokeWidth": 1.5, "symbolFillColor": "transparent",
            "symbolOffset": 13.5, "labelOffset": 13.5,
            "labelFont": "Liberation Sans", "labelFontSize": 14.2, "labelColor": "#111111", "labelLimit": 400,
            "padding": 4, "rowPadding": 3.6,
            "strokeColor": "#000000", "fillColor": "#ffffff", "zindex": 1
          }
        }
      }
    }
  ],
  "config": {
    "font": "Liberation Sans",
    "view": {"stroke": "#6e6e6e", "strokeWidth": 1.5}
  }
}
